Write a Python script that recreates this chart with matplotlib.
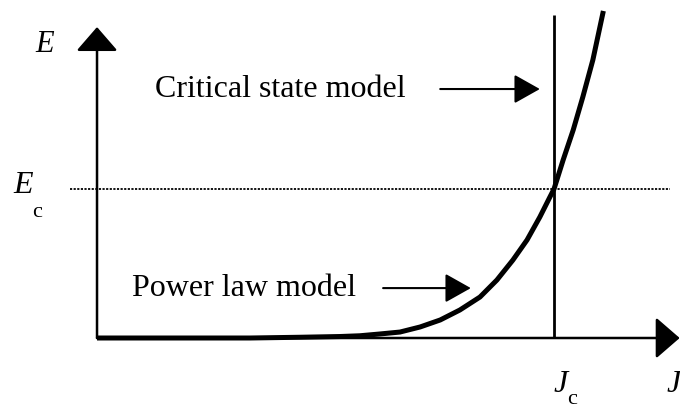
import matplotlib
matplotlib.use('Agg')
import matplotlib.pyplot as plt

# current density J / Jc and field E / Ec
j_curve = [0.0, 0.335, 0.444, 0.532, 0.575, 0.619, 0.663, 0.707, 0.751,
           0.794, 0.838, 0.875, 0.910, 0.941, 0.969, 0.991, 1.0, 1.020,
           1.042, 1.063, 1.085, 1.108]
e_curve = [0.0, 0.0, 0.005, 0.010, 0.015, 0.027, 0.040, 0.074, 0.121,
           0.188, 0.275, 0.389, 0.523, 0.658, 0.812, 0.946, 1.0, 1.195,
           1.396, 1.617, 1.866, 2.195]

J_C = 1.0
E_C = 1.0

FONT = 'Liberation Serif'


def arrow(ax, start, end, lw, head_length, head_width, scale):
    ax.annotate('', xy=end, xytext=start,
                arrowprops=dict(arrowstyle='-|>,head_length={},head_width={}'.format(
                    head_length, head_width),
                    lw=lw, color='black', mutation_scale=scale,
                    shrinkA=0, shrinkB=0))


def main():
    fig = plt.figure(figsize=(6.8, 4.08), dpi=100)
    ax = fig.add_axes([0, 0, 1, 1])
    ax.set_xlim(-0.2123, 1.2757)
    ax.set_ylim(-0.4698, 2.2685)
    ax.axis('off')

    # axes with arrow heads
    arrow(ax, (0, 0), (0, 2.087), 1.8, 0.75, 0.65, 20)
    arrow(ax, (0, 0), (1.275, 0), 1.8, 0.75, 0.65, 20)

    # critical current line and critical field line
    ax.plot([J_C, J_C], [0, 2.168], color='black', lw=2.0, solid_capstyle='butt')
    ax.plot([-0.059, 1.254], [E_C, E_C], color='black', lw=1.3,
            linestyle=(0, (1.2, 0.8)))

    ax.plot(j_curve, e_curve, color='black', lw=3.6, solid_joinstyle='round',
            solid_capstyle='butt')

    # model labels with pointer arrows
    ax.text(0.127, 1.665, 'Critical state model', fontsize=23, family=FONT,
            ha='left', va='center')
    arrow(ax, (0.751, 1.671), (0.969, 1.671), 1.5, 0.8, 0.45, 20)

    ax.text(0.077, 0.335, 'Power law model', fontsize=23, family=FONT,
            ha='left', va='center')
    arrow(ax, (0.626, 0.335), (0.818, 0.335), 1.5, 0.8, 0.45, 20)

    # axis symbols
    ax.text(-0.136, 1.92, 'E', fontsize=22, family=FONT, style='italic',
            ha='left', va='baseline')
    ax.text(-0.184, 0.976, 'E', fontsize=23, family=FONT, style='italic',
            ha='left', va='baseline')
    ax.text(-0.142, 0.815, 'c', fontsize=16, family=FONT,
            ha='left', va='baseline')
    ax.text(0.998, -0.36, 'J', fontsize=23, family=FONT, style='italic',
            ha='left', va='baseline')
    ax.text(1.028, -0.445, 'c', fontsize=16, family=FONT,
            ha='left', va='baseline')
    ax.text(1.247, -0.36, 'J', fontsize=23, family=FONT, style='italic',
            ha='left', va='baseline')

    fig.savefig('out.png', dpi=100)


if __name__ == "__main__":
    main()
